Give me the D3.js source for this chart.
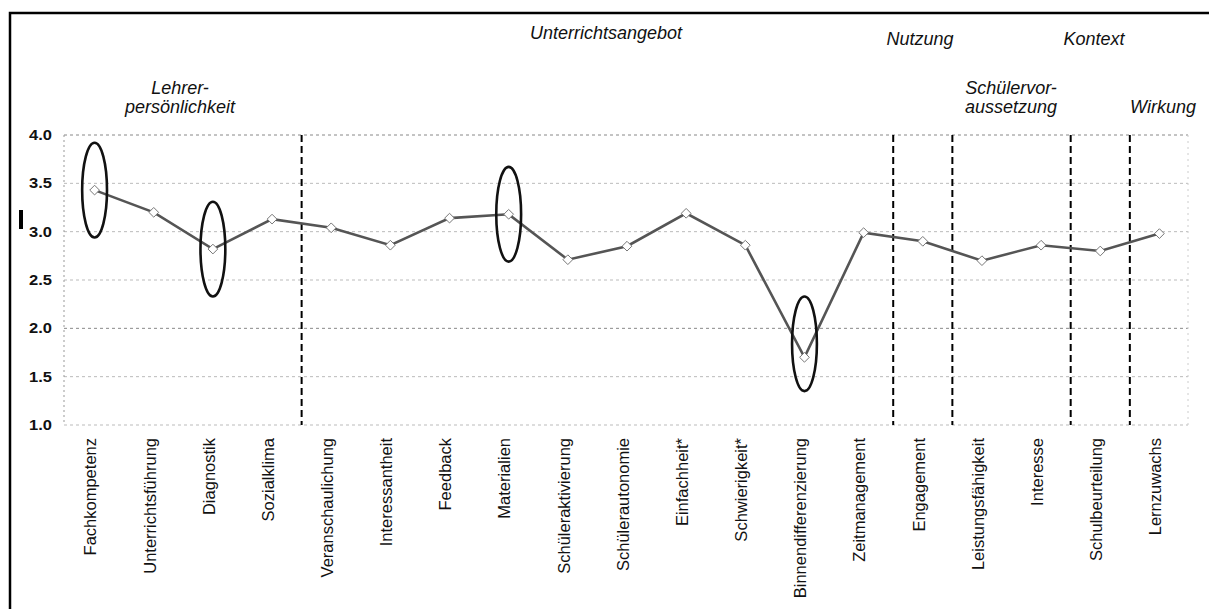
<!DOCTYPE html>
<html>
<head>
<meta charset="utf-8">
<script src="https://cdn.jsdelivr.net/npm/d3@7"></script>
<style>
  html, body { margin: 0; padding: 0; background: #fff; }
  svg { display: block; }
  text { font-family: "Liberation Sans", Arial, sans-serif; fill: #111; }
</style>
</head>
<body>
<svg id="chart" width="1209" height="609"></svg>
<script>
// ---- data ----
const categories = [
  "Fachkompetenz", "Unterrichtsführung", "Diagnostik", "Sozialklima",
  "Veranschaulichung", "Interessantheit", "Feedback", "Materialien",
  "Schüleraktivierung", "Schülerautonomie", "Einfachheit*", "Schwierigkeit*",
  "Binnendifferenzierung", "Zeitmanagement", "Engagement", "Leistungsfähigkeit",
  "Interesse", "Schulbeurteilung", "Lernzuwachs"
];
const values = [
  3.43, 3.20, 2.82, 3.13,
  3.04, 2.86, 3.14, 3.18,
  2.71, 2.85, 3.19, 2.86,
  1.70, 2.99, 2.90, 2.70,
  2.86, 2.80, 2.98
];
const yTicks = [1.0, 1.5, 2.0, 2.5, 3.0, 3.5, 4.0];
const separatorsAfter = ["Sozialklima", "Zeitmanagement", "Engagement", "Interesse", "Schulbeurteilung"];
const ellipseCats = ["Fachkompetenz", "Diagnostik", "Materialien", "Binnendifferenzierung"];
const ellipseCenters = [3.43, 2.82, 3.18, 1.84];
const ellipseHalfHeight = 0.49;
const groupLabels = [
  { lines: ["Lehrer-", "persönlichkeit"], x: 180, y: 113 },
  { lines: ["Unterrichtsangebot"], x: 606, y: 39 },
  { lines: ["Nutzung"], x: 920, y: 45 },
  { lines: ["Kontext"], x: 1094, y: 45 },
  { lines: ["Schülervor-", "aussetzung"], x: 1011, y: 113 },
  { lines: ["Wirkung"], x: 1163, y: 113 }
];

// ---- layout ----
const svg = d3.select("#chart");
const x = d3.scaleBand().domain(categories).range([65, 1189]).padding(0);
const y = d3.scaleLinear().domain([1, 4]).range([425, 135]);
const cx = c => x(c) + x.bandwidth() / 2;
const lineGap = 19;

// frame
svg.append("path")
  .attr("d", "M10,609 L10,13 L1209,13")
  .attr("fill", "none").attr("stroke", "#000").attr("stroke-width", 2.5);

// gridlines
svg.append("g").selectAll("line").data(yTicks).join("line")
  .attr("x1", 64).attr("x2", 1188)
  .attr("y1", d => y(d)).attr("y2", d => y(d))
  .attr("stroke", d => (d === 4 || d === 2) ? "#888" : "#bbb")
  .attr("stroke-width", 1)
  .attr("stroke-dasharray", "3,3");

// left dotted axis and right faint edge
svg.append("line").attr("x1", 64).attr("x2", 64).attr("y1", y(4)).attr("y2", y(1))
  .attr("stroke", "#999").attr("stroke-dasharray", "2,3");
svg.append("line").attr("x1", 1188).attr("x2", 1188).attr("y1", y(4)).attr("y2", y(1))
  .attr("stroke", "#ccc").attr("stroke-dasharray", "2,4");

// y tick labels
svg.append("g").selectAll("text").data(yTicks).join("text")
  .attr("transform", d => `translate(52,${y(d)}) scale(1.18,1)`)
  .attr("dy", "0.36em")
  .attr("text-anchor", "end")
  .attr("font-size", 14)
  .attr("font-weight", "bold")
  .text(d => d.toFixed(1));

// stray mark
svg.append("rect").attr("x", 19).attr("y", 210).attr("width", 4).attr("height", 19).attr("fill", "#000");

// separators
svg.append("g").selectAll("line").data(separatorsAfter).join("line")
  .attr("x1", d => x(d) + x.bandwidth()).attr("x2", d => x(d) + x.bandwidth())
  .attr("y1", y(4)).attr("y2", y(1))
  .attr("stroke", "#000").attr("stroke-width", 2)
  .attr("stroke-dasharray", "7,4");

// line
const pts = categories.map((c, i) => [cx(c), y(values[i])]);
svg.append("path")
  .attr("d", d3.line()(pts))
  .attr("fill", "none").attr("stroke", "#555").attr("stroke-width", 2.6);

// markers
svg.append("g").selectAll("path").data(pts).join("path")
  .attr("transform", d => `translate(${d[0]},${d[1]})`)
  .attr("d", d3.symbol(d3.symbolDiamond2, 60)())
  .attr("fill", "#fff").attr("stroke", "#777").attr("stroke-width", 1);

// ellipses
svg.append("g").selectAll("ellipse").data(ellipseCats).join("ellipse")
  .attr("cx", d => cx(d))
  .attr("cy", (d, i) => y(ellipseCenters[i]))
  .attr("rx", x.bandwidth() * 0.21)
  .attr("ry", (d, i) => y(ellipseCenters[i] - ellipseHalfHeight) - y(ellipseCenters[i]))
  .attr("fill", "none").attr("stroke", "#111").attr("stroke-width", 2.6);

// category labels
svg.append("g").selectAll("text").data(categories).join("text")
  .attr("transform", d => `translate(${cx(d) - 4},438) rotate(-90)`)
  .attr("dy", "0.35em")
  .attr("text-anchor", "end")
  .attr("font-size", 16.5)
  .text(d => d);

// group labels
const gl = svg.append("g");
groupLabels.forEach(g => {
  const t = gl.append("text")
    .attr("transform", `translate(${g.x},${g.y - (g.lines.length - 1) * lineGap})`)
    .attr("text-anchor", "middle")
    .attr("font-size", 18)
    .attr("font-style", "italic");
  g.lines.forEach((l, i) => {
    t.append("tspan").attr("x", 0).attr("dy", i === 0 ? 0 : lineGap).text(l);
  });
});
</script>
</body>
</html>
